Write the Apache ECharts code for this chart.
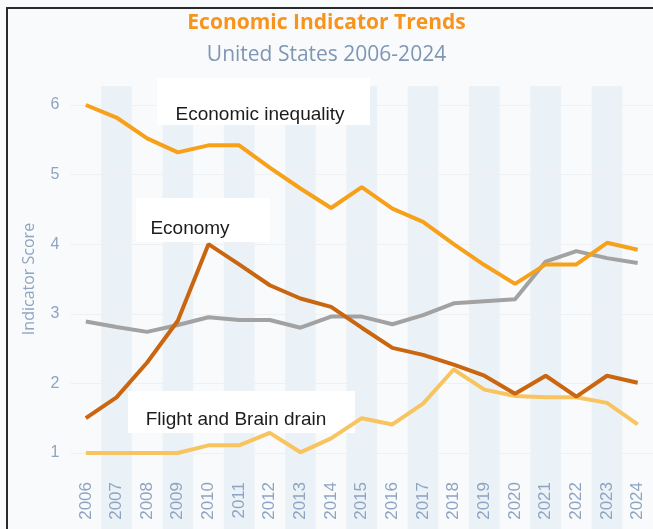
<!DOCTYPE html>
<html>
<head>
<meta charset="utf-8">
<script src="https://cdn.jsdelivr.net/npm/echarts@6/dist/echarts.min.js"></script>
<style>
html,body{margin:0;padding:0;background:#ffffff;}
#chart{width:653px;height:529px;}
</style>
</head>
<body>
<div id="chart"></div>
<script>
const years = ['2006','2007','2008','2009','2010','2011','2012','2013','2014','2015','2016','2017','2018','2019','2020','2021','2022','2023','2024'];
const inequality = [6.0,5.82,5.52,5.32,5.42,5.42,5.1,4.8,4.52,4.82,4.51,4.32,4.0,3.7,3.43,3.71,3.71,4.02,3.92];
const economy = [1.5,1.8,2.3,2.9,4.0,3.71,3.41,3.22,3.1,2.8,2.51,2.41,2.27,2.11,1.85,2.11,1.81,2.11,2.01];
const overall = [2.89,2.81,2.74,2.84,2.95,2.91,2.91,2.8,2.96,2.96,2.85,2.98,3.15,3.18,3.21,3.75,3.9,3.8,3.73];
const flight = [1.0,1.0,1.0,1.0,1.11,1.11,1.29,1.01,1.21,1.5,1.41,1.71,2.2,1.91,1.82,1.8,1.8,1.72,1.41];
const bandFlags = [0,1,0,1,0,1,0,1,0,1,0,1,0,1,0,1,0,1,0];
const yTicks = [1,2,3,4,5,6];

const chart = echarts.init(document.getElementById('chart'), null, {renderer:'canvas'});
const lineBase = {type:'line', xAxisIndex:0, yAxisIndex:0, symbol:'none', smooth:false, clip:false, z:20};
const boxText = {fontFamily:'Liberation Sans, Arial, sans-serif', fontSize:19, fill:'#1c1c1c'};
chart.setOption({
  backgroundColor:'#f9fafb',
  animation:false,
  title:[
    {text:'Economic Indicator Trends', left:'center', top:8,
     textStyle:{color:'#f7941d', fontSize:21, fontWeight:'bold', fontFamily:'Open Sans, sans-serif'}},
    {text:'United States 2006-2024', left:'center', top:40,
     textStyle:{color:'#7f96b4', fontSize:21, fontWeight:'normal', fontFamily:'Open Sans, sans-serif'}}
  ],
  grid:[
    {left:70.5, right:-4.5, top:105, bottom:76},
    {left:70.5, right:-4.5, top:86, bottom:0}
  ],
  xAxis:[
    {type:'category', data:years, gridIndex:0, boundaryGap:true, z:3,
     axisLine:{show:false}, axisTick:{show:false},
     axisLabel:{rotate:90, margin:29, color:'#8ea4c1', fontSize:17, fontFamily:'Liberation Sans, Arial, sans-serif'}},
    {type:'category', data:years, gridIndex:1, boundaryGap:true, show:false}
  ],
  yAxis:[
    {type:'value', gridIndex:0, min:yTicks[0], max:yTicks[yTicks.length-1], interval:1, z:3,
     name:'Indicator Score', nameLocation:'middle', nameGap:33,
     nameTextStyle:{color:'#8ea4c1', fontSize:16, fontFamily:'Open Sans, sans-serif'},
     axisLine:{show:false}, axisTick:{show:false},
     axisLabel:{color:'#8ea4c1', fontSize:16, margin:11, fontFamily:'Liberation Sans, Arial, sans-serif'},
     splitLine:{show:true, lineStyle:{color:'#eef0f3', width:1}}},
    {type:'value', gridIndex:1, min:0, max:1, show:false}
  ],
  graphic:[
    {type:'rect', z:10, shape:{x:157, y:78, width:213, height:47}, style:{fill:'#ffffff'}},
    {type:'text', z:11, x:260, y:115, style:Object.assign({text:'Economic inequality', align:'center', verticalAlign:'middle'}, boxText)},
    {type:'rect', z:10, shape:{x:136, y:198, width:134, height:44}, style:{fill:'#ffffff'}},
    {type:'text', z:11, x:190, y:229, style:Object.assign({text:'Economy', align:'center', verticalAlign:'middle'}, boxText)},
    {type:'rect', z:10, shape:{x:128, y:391, width:227, height:42}, style:{fill:'#ffffff'}},
    {type:'text', z:11, x:236, y:420, style:Object.assign({text:'Flight and Brain drain', align:'center', verticalAlign:'middle'}, boxText)},
    {type:'rect', z:30, shape:{x:7, y:8, width:700, height:600}, style:{fill:'none', stroke:'#2a2a2a', lineWidth:2}}
  ],
  series:[
    {type:'bar', xAxisIndex:1, yAxisIndex:1, data:bandFlags, barWidth:'100%', z:0, silent:true,
     itemStyle:{color:'#ebf2f7'}},
    Object.assign({}, lineBase, {name:'Flight and Brain drain', data:flight, lineStyle:{color:'#f8c460', width:4}}),
    Object.assign({}, lineBase, {name:'Overall', data:overall, lineStyle:{color:'#a2a2a2', width:4}}),
    Object.assign({}, lineBase, {name:'Economy', data:economy, lineStyle:{color:'#c9660f', width:4}}),
    Object.assign({}, lineBase, {name:'Economic inequality', data:inequality, lineStyle:{color:'#f7a11a', width:4}})
  ]
});
</script>
</body>
</html>
